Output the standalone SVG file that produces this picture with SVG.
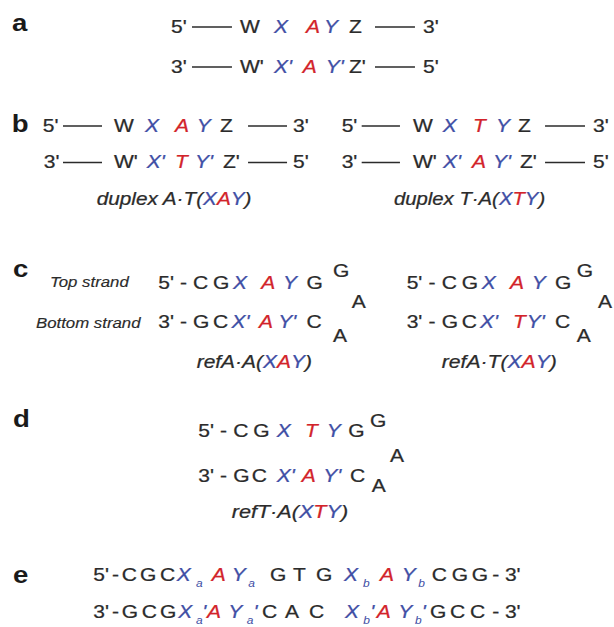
<svg xmlns="http://www.w3.org/2000/svg" width="614" height="627" viewBox="0 0 614 627">
<style>
text{font-family:"Liberation Sans",Arial,Helvetica,sans-serif;font-size:17.5px;fill:#2b2b2b;stroke:#2b2b2b;stroke-width:0.25}
.b{fill:#3f4fa5;stroke:#3f4fa5;font-style:italic}
.r{fill:#d2232a;stroke:#d2232a;font-style:italic}
.p{font-weight:bold;font-size:23px;fill:#1a1a1a;stroke:none}
.i{font-style:italic}
.s{font-size:14px;font-style:italic;stroke-width:0.15}
.sub{font-size:10px;font-style:italic;fill:#3f4fa5;stroke:none}
line{stroke:#2b2b2b;stroke-width:1.4}
</style>
<rect width="614" height="627" fill="#ffffff"/>
<!-- the typeset figure is set in a horizontally widened face -->
<g transform="scale(1.2 1)">

<g id="panel-a">
<text class="p" x="10" y="31">a</text>
<text x="142.5" y="33">5'</text><line x1="160" y1="27" x2="193.3" y2="27"/>
<text x="200" y="33">W</text><text class="b" x="228.3" y="33">X</text><text class="r" x="255" y="33">A</text><text class="b" x="270" y="33">Y</text><text x="290.8" y="33">Z</text>
<line x1="312.5" y1="27" x2="345.8" y2="27"/><text x="352.5" y="33">3'</text>
<text x="142.5" y="73">3'</text><line x1="160" y1="67" x2="193.3" y2="67"/>
<text x="200" y="73">W'</text><text class="b" x="228.3" y="73">X'</text><text class="r" x="252.2" y="73">A</text><text class="b" x="271.4" y="73">Y'</text><text x="290.8" y="73">Z'</text>
<line x1="312.5" y1="67" x2="345.8" y2="67"/><text x="352.5" y="73">5'</text>
</g>

<g id="panel-b">
<text class="p" x="9.75" y="132">b</text>
<g id="duplex-AT">
<text x="35.6" y="132">5'</text><line x1="52.5" y1="126" x2="85" y2="126"/>
<text x="95" y="132">W</text><text class="b" x="120.8" y="132">X</text><text class="r" x="145.8" y="132">A</text><text class="b" x="163.9" y="132">Y</text><text x="183.3" y="132">Z</text>
<line x1="206.7" y1="126" x2="239.2" y2="126"/><text x="244.2" y="132">3'</text>
<text x="36.5" y="168.5">3'</text><line x1="52.5" y1="162.5" x2="85" y2="162.5"/>
<text x="95" y="168.5">W'</text><text class="b" x="122.2" y="168.5">X'</text><text class="r" x="145.8" y="168.5">T</text><text class="b" x="162.5" y="168.5">Y'</text><text x="185.8" y="168.5">Z'</text>
<line x1="206.7" y1="162.5" x2="239.2" y2="162.5"/><text x="244.2" y="168.5">5'</text>
<text class="i" x="80.6" y="205" textLength="129" lengthAdjust="spacingAndGlyphs">duplex A·T(<tspan class="b">X</tspan><tspan class="r">A</tspan><tspan class="b">Y</tspan>)</text>
</g>
<g id="duplex-TA">
<text x="284.75" y="132">5'</text><line x1="301.4" y1="126" x2="333.3" y2="126"/>
<text x="344.2" y="132">W</text><text class="b" x="368.9" y="132">X</text><text class="r" x="394.2" y="132">T</text><text class="b" x="413.3" y="132">Y</text><text x="431.7" y="132">Z</text>
<line x1="454.2" y1="126" x2="487.5" y2="126"/><text x="494.2" y="132">3'</text>
<text x="284.75" y="168.5">3'</text><line x1="301.4" y1="162.5" x2="333.3" y2="162.5"/>
<text x="344.2" y="168.5">W'</text><text class="b" x="369.2" y="168.5">X'</text><text class="r" x="393.3" y="168.5">A</text><text class="b" x="410.8" y="168.5">Y'</text><text x="433.3" y="168.5">Z'</text>
<line x1="454.2" y1="162.5" x2="487.5" y2="162.5"/><text x="494.2" y="168.5">5'</text>
<text class="i" x="328.3" y="205" textLength="126" lengthAdjust="spacingAndGlyphs">duplex T·A(<tspan class="b">X</tspan><tspan class="r">T</tspan><tspan class="b">Y</tspan>)</text>
</g>
</g>

<g id="panel-c">
<text class="p" x="10.8" y="277">c</text>
<text class="s" x="41.7" y="287">Top strand</text>
<text class="s" x="30" y="328">Bottom strand</text>
<g id="refAA">
<text x="131.9" y="289">5'</text><text x="150" y="289">-</text><text x="160.8" y="289">C</text><text x="177.5" y="289">G</text>
<text class="b" x="194.2" y="289">X</text><text class="r" x="217.75" y="289">A</text><text class="b" x="235.8" y="289">Y</text><text x="255.4" y="289">G</text>
<text x="277.5" y="276.7">G</text><text x="293.1" y="308.3">A</text>
<text x="131.9" y="328">3'</text><text x="150" y="328">-</text><text x="160.8" y="328">G</text><text x="177.5" y="328">C</text>
<text class="b" x="193" y="328">X'</text><text class="r" x="215.8" y="328">A</text><text class="b" x="231.9" y="328">Y'</text><text x="255.5" y="328">C</text>
<text x="277.5" y="342">A</text>
<text class="i" x="163.9" y="368.5" textLength="96" lengthAdjust="spacingAndGlyphs">refA·A(<tspan class="b">X</tspan><tspan class="r">A</tspan><tspan class="b">Y</tspan>)</text>
</g>
<g id="refAT">
<text x="338.9" y="289">5'</text><text x="357.1" y="289">-</text><text x="368.1" y="289">C</text><text x="384.75" y="289">G</text>
<text class="b" x="401.4" y="289">X</text><text class="r" x="425" y="289">A</text><text class="b" x="443.1" y="289">Y</text><text x="462.5" y="289">G</text>
<text x="480.6" y="276.7">G</text><text x="498.3" y="308.3">A</text>
<text x="338.9" y="328">3'</text><text x="357.1" y="328">-</text><text x="368.1" y="328">G</text><text x="384.75" y="328">C</text>
<text class="b" x="400" y="328">X'</text><text class="r" x="427.5" y="328">T</text><text class="b" x="438.9" y="328">Y'</text><text x="462.5" y="328">C</text>
<text x="480.6" y="342">A</text>
<text class="i" x="368.1" y="368.5" textLength="96" lengthAdjust="spacingAndGlyphs">refA·T(<tspan class="b">X</tspan><tspan class="r">A</tspan><tspan class="b">Y</tspan>)</text>
</g>
</g>

<g id="panel-d">
<text class="p" x="10.8" y="427">d</text>
<text x="165.25" y="437">5'</text><text x="183.3" y="437">-</text><text x="194.4" y="437">C</text><text x="211.1" y="437">G</text>
<text class="b" x="230.6" y="437">X</text><text class="r" x="254.2" y="437">T</text><text class="b" x="272.25" y="437">Y</text><text x="290.25" y="437">G</text>
<text x="308.3" y="426.7">G</text><text x="325" y="461.7">A</text>
<text x="165.25" y="481.7">3'</text><text x="183.3" y="481.7">-</text><text x="194.4" y="481.7">G</text><text x="209.75" y="481.7">C</text>
<text class="b" x="230.6" y="481.7">X'</text><text class="r" x="251.4" y="481.7">A</text><text class="b" x="269.4" y="481.7">Y'</text><text x="291.7" y="481.7">C</text>
<text x="309.75" y="491.7">A</text>
<text class="i" x="193.1" y="518.5" textLength="97" lengthAdjust="spacingAndGlyphs">refT·A(<tspan class="b">X</tspan><tspan class="r">T</tspan><tspan class="b">Y</tspan>)</text>
</g>

<g id="panel-e">
<text class="p" x="10.8" y="583">e</text>
<text x="77.75" y="581">5'</text><text x="93.25" y="581">-</text><text x="101.4" y="581">C</text><text x="116.7" y="581">G</text><text x="133.3" y="581">C</text>
<text class="b" x="147.25" y="581">X</text><text class="sub" x="163.3" y="587">a</text>
<text class="r" x="176.4" y="581">A</text>
<text class="b" x="193.1" y="581">Y</text><text class="sub" x="206.9" y="587">a</text>
<text x="225" y="581">G</text><text x="244.2" y="581">T</text><text x="263.3" y="581">G</text>
<text class="b" x="286.7" y="581">X</text><text class="sub" x="302.5" y="587">b</text>
<text class="r" x="316.7" y="581">A</text>
<text class="b" x="334.75" y="581">Y</text><text class="sub" x="348.6" y="587">b</text>
<text x="359.75" y="581">C</text><text x="376.4" y="581">G</text><text x="393.1" y="581">G</text><text x="410.25" y="581">-</text><text x="420.8" y="581">3'</text>

<text x="77.75" y="617.7">3'</text><text x="93.25" y="617.7">-</text><text x="101.4" y="617.7">G</text><text x="118.1" y="617.7">C</text><text x="133.3" y="617.7">G</text>
<text class="b" x="148.6" y="617.7">X</text><text class="sub" x="163.3" y="624">a</text><text class="b" x="168.5" y="617.7">'</text>
<text class="r" x="172.5" y="617.7">A</text>
<text class="b" x="190.25" y="617.7">Y</text><text class="sub" x="205.6" y="624">a</text><text class="b" x="211.2" y="617.7">'</text>
<text x="218.3" y="617.7">C</text><text x="237.5" y="617.7">A</text><text x="257.5" y="617.7">C</text>
<text class="b" x="287.5" y="617.7">X</text><text class="sub" x="302.8" y="624">b</text><text class="b" x="308.6" y="617.7">'</text>
<text class="r" x="313.9" y="617.7">A</text>
<text class="b" x="331.9" y="617.7">Y</text><text class="sub" x="345.8" y="624">b</text><text class="b" x="351.5" y="617.7">'</text>
<text x="358.3" y="617.7">G</text><text x="375" y="617.7">C</text><text x="391.7" y="617.7">C</text><text x="410.25" y="617.7">-</text><text x="420.8" y="617.7">3'</text>
</g>

</g>
</svg>
